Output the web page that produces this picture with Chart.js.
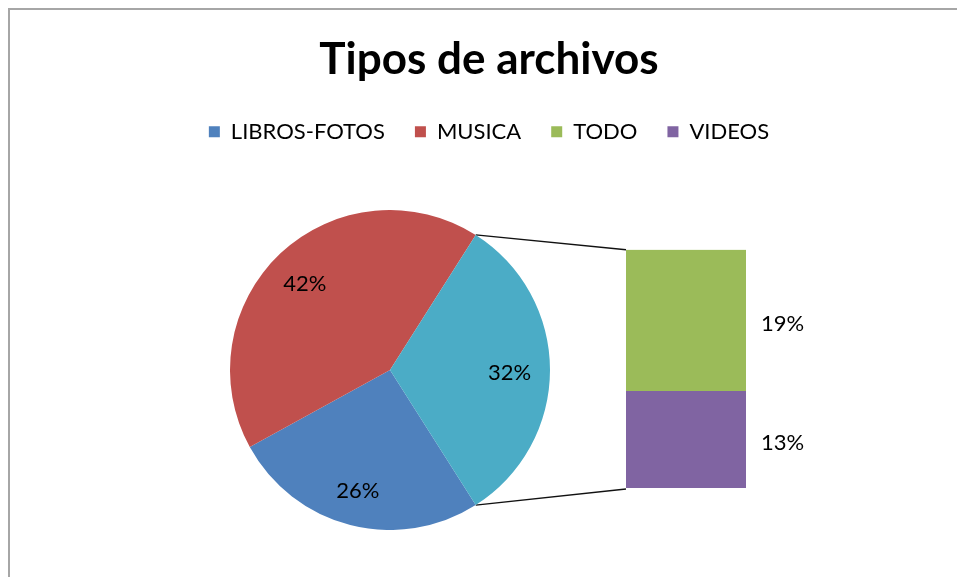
<!DOCTYPE html>
<html lang="es">
<head>
    <meta charset="UTF-8">
    <title>Tipos de archivos</title>
    <!-- Chart.js from CDN -->
    <script src="https://cdn.jsdelivr.net/npm/chart.js"></script>
    <style>
        body { margin: 0; overflow: hidden; background: #fff; }
        #frame {
            position: absolute; left: 8px; top: 8px;
            width: 2000px; height: 2000px;
            border-left: 2px solid #a6a6a6; border-top: 2px solid #a6a6a6;
        }
        #barChart { position: absolute; left: 0; top: 0; }
        #pieChart { position: absolute; left: 230px; top: 210px; }
    </style>
</head>
<body>
    <div id="frame"></div>
    <canvas id="barChart" width="957" height="577"></canvas>
    <canvas id="pieChart" width="320" height="320"></canvas>

<script>
    // Data (percent)
    const pieLabels = ['LIBROS-FOTOS', 'MUSICA', 'Otros'];
    const pieValues = [26, 42, 32];
    const barLabels = ['VIDEOS', 'TODO'];   // bottom to top
    const barValues = [13, 19];
    const legendLabels = ['LIBROS-FOTOS', 'MUSICA', 'TODO', 'VIDEOS'];

    const pieColors = ['#4f81bd', '#c0504d', '#4bacc6'];
    const barColors = ['#8064a2', '#9bbb59'];
    const legendColors = ['#4f81bd', '#c0504d', '#9bbb59', '#8064a2'];

    const fontFamily = 'Lato, "Open Sans", sans-serif';
    const pieTotal = pieValues.reduce((a, b) => a + b, 0);
    const otherIndex = 2;

    // Percent labels inside the pie slices
    const pieLabelPlugin = {
        id: 'pieLabels',
        afterDatasetsDraw(chart) {
            const ctx = chart.ctx;
            const meta = chart.getDatasetMeta(0);
            ctx.save();
            ctx.font = '22px ' + fontFamily;
            ctx.fillStyle = '#000';
            ctx.textAlign = 'center';
            ctx.textBaseline = 'middle';
            meta.data.forEach((arc, i) => {
                const mid = (arc.startAngle + arc.endAngle) / 2;
                const r = arc.outerRadius * 0.76;
                ctx.fillText(pieValues[i] + '%', arc.x + Math.cos(mid) * r - 2, arc.y + Math.sin(mid) * r + 3);
            });
            ctx.restore();
        }
    };

    const pieChart = new Chart(document.getElementById('pieChart'), {
        type: 'pie',
        data: {
            labels: pieLabels,
            datasets: [{
                data: pieValues,
                backgroundColor: pieColors,
                borderWidth: 0
            }]
        },
        options: {
            responsive: false,
            animation: false,
            // center the "other" slice on the right side, like Excel does
            rotation: 90 + pieValues[otherIndex] / pieTotal * 180,
            layout: { padding: 0 },
            plugins: {
                legend: { display: false },
                tooltip: { enabled: false }
            }
        },
        plugins: [pieLabelPlugin]
    });

    // Labels next to the stacked bar + connector lines back to the pie
    const barExtrasPlugin = {
        id: 'barExtras',
        afterDatasetsDraw(chart) {
            const ctx = chart.ctx;
            ctx.save();

            // connector lines
            const arc = pieChart.getDatasetMeta(0).data[otherIndex];
            const offX = pieChart.canvas.offsetLeft - chart.canvas.offsetLeft;
            const offY = pieChart.canvas.offsetTop - chart.canvas.offsetTop;
            const r = arc.outerRadius;
            const p1 = { x: offX + arc.x + Math.cos(arc.startAngle) * r, y: offY + arc.y + Math.sin(arc.startAngle) * r };
            const p2 = { x: offX + arc.x + Math.cos(arc.endAngle) * r, y: offY + arc.y + Math.sin(arc.endAngle) * r };
            const topBar = chart.getDatasetMeta(barValues.length - 1).data[0];
            const bottomBar = chart.getDatasetMeta(0).data[0];
            const left = topBar.x - topBar.width / 2;
            ctx.strokeStyle = '#111';
            ctx.lineWidth = 1.4;
            ctx.beginPath();
            ctx.moveTo(p1.x, p1.y);
            ctx.lineTo(left, topBar.y);
            ctx.moveTo(p2.x, p2.y);
            ctx.lineTo(left, bottomBar.base + 1);
            ctx.stroke();

            // value labels
            ctx.font = '22px ' + fontFamily;
            ctx.fillStyle = '#000';
            ctx.textAlign = 'left';
            ctx.textBaseline = 'middle';
            barValues.forEach((v, i) => {
                const el = chart.getDatasetMeta(i).data[0];
                ctx.fillText(v + '%', el.x + el.width / 2 + 15, (el.y + el.base) / 2 + 3);
            });
            ctx.restore();
        }
    };

    const hiddenAxis = {
        display: true,
        grid: { display: false },
        ticks: { display: false },
        border: { display: false }
    };

    const barChart = new Chart(document.getElementById('barChart'), {
        type: 'bar',
        data: {
            labels: ['Otros'],
            datasets: barLabels.map((name, i) => ({
                label: name,
                data: [barValues[i]],
                backgroundColor: barColors[i],
                borderWidth: 0,
                barPercentage: 1,
                categoryPercentage: 1
            }))
        },
        options: {
            responsive: false,
            animation: false,
            layout: { padding: { left: 21, right: 0, top: 8, bottom: 89 } },
            scales: {
                x: { stacked: true, display: false },
                y: {
                    ...hiddenAxis,
                    stacked: true,
                    min: 0,
                    max: barValues.reduce((a, b) => a + b, 0),
                    afterFit: (s) => { s.width = 605; }
                },
                yRight: {
                    ...hiddenAxis,
                    position: 'right',
                    afterFit: (s) => { s.width = 211; }
                },
                xTop: {
                    ...hiddenAxis,
                    type: 'category',
                    position: 'top',
                    afterFit: (s) => { s.height = 97; }
                }
            },
            plugins: {
                title: {
                    display: true,
                    text: 'Tipos de archivos',
                    color: '#000',
                    font: { family: fontFamily, size: 44, weight: 'bold' },
                    padding: { top: 25, bottom: 5 }
                },
                legend: {
                    display: true,
                    position: 'top',
                    onClick: null,
                    labels: {
                        color: '#000',
                        font: { family: fontFamily, size: 22 },
                        boxWidth: 11,
                        boxHeight: 11,
                        padding: 30,
                        generateLabels: () => legendLabels.map((text, i) => ({
                            text: text,
                            fillStyle: legendColors[i],
                            strokeStyle: legendColors[i],
                            lineWidth: 0,
                            hidden: false,
                            index: i
                        }))
                    }
                },
                tooltip: { enabled: false }
            }
        },
        plugins: [barExtrasPlugin]
    });
</script>
</body>
</html>
